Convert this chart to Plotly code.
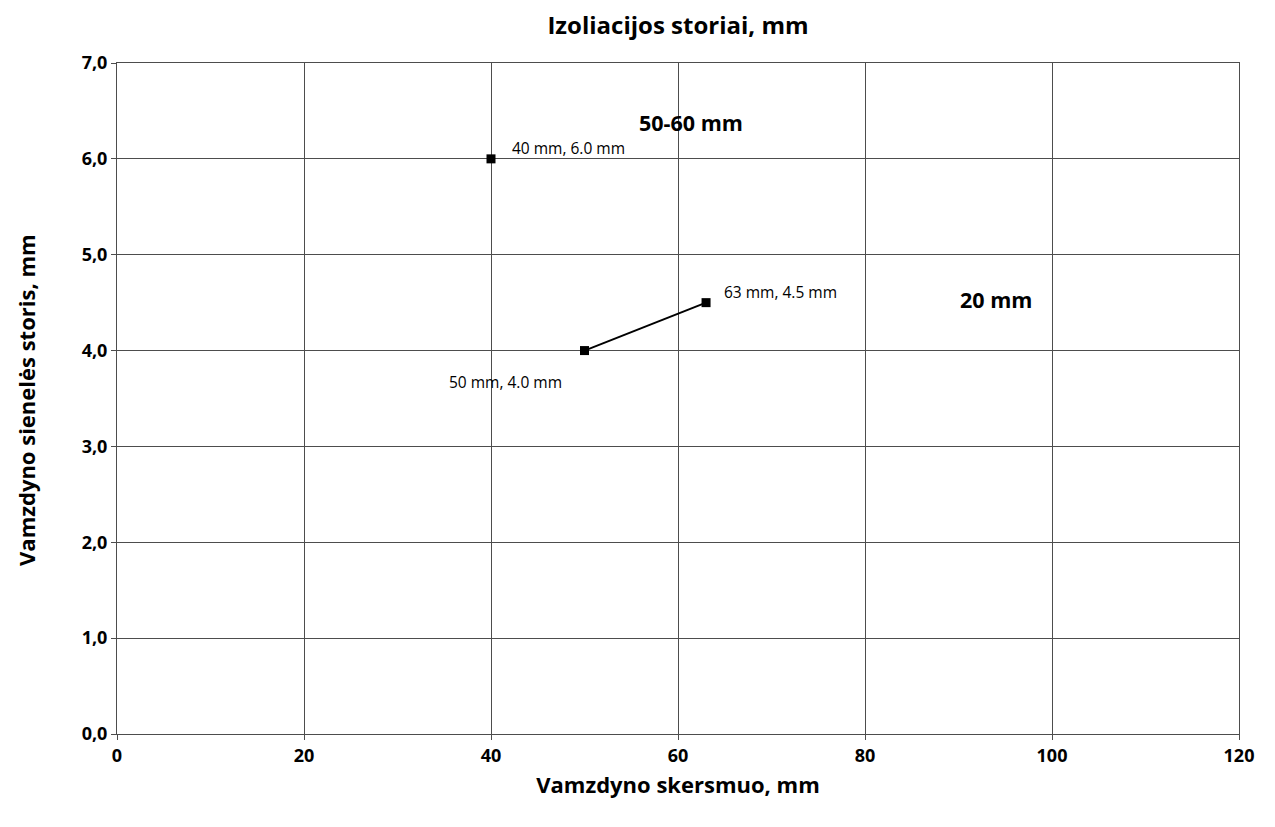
import plotly.graph_objects as go

# Data
line_x = [50, 63]
line_y = [4.0, 4.5]
single_x = [40]
single_y = [6.0]
point_labels = ["40 mm, 6.0 mm", "63 mm, 4.5 mm", "50 mm, 4.0 mm"]
label_x = [40, 63, 50]
label_y = [6.0, 4.5, 4.0]
region_labels = ["50-60 mm", "20 mm"]
region_x = [61.4, 94.0]
region_y = [6.38, 4.53]
x_ticks = [0, 20, 40, 60, 80, 100, 120]
y_ticks = [0, 1, 2, 3, 4, 5, 6, 7]
y_tick_text = ["0,0", "1,0", "2,0", "3,0", "4,0", "5,0", "6,0", "7,0"]

FONT = "Open Sans, Liberation Sans, Arial, sans-serif"

fig = go.Figure()
fig.add_trace(go.Scatter(x=line_x, y=line_y, mode="lines+markers",
                         line=dict(color="black", width=2),
                         marker=dict(symbol="square", size=9, color="black"),
                         showlegend=False))
fig.add_trace(go.Scatter(x=single_x, y=single_y, mode="markers",
                         marker=dict(symbol="square", size=9, color="black"),
                         showlegend=False))

offsets = [(19, 11, "left"), (16, 11, "left"), (-21, -31, "right")]
for t, x, y, (dx, dy, anc) in zip(point_labels, label_x, label_y, offsets):
    fig.add_annotation(x=x, y=y, text=t, showarrow=False, xanchor=anc,
                       xshift=dx, yshift=dy,
                       font=dict(family=FONT, size=15.5, color="black"))
for t, x, y in zip(region_labels, region_x, region_y):
    fig.add_annotation(x=x, y=y, text="<b>" + t + "</b>", showarrow=False,
                       font=dict(family=FONT, size=21.5, color="black"))

# y-axis title as rotated annotation
fig.add_annotation(x=-0.081, y=0.498, xref="paper", yref="paper",
                   text="<b>Vamzdyno sienelės storis, mm</b>", textangle=-90,
                   showarrow=False, xanchor="center", yanchor="middle",
                   font=dict(family=FONT, size=22, color="black"))

fig.update_layout(
    width=1275, height=827,
    paper_bgcolor="white", plot_bgcolor="white",
    margin=dict(l=109, r=44, t=55, b=101),
    font=dict(family=FONT, color="black"),
    title=dict(text="<b>Izoliacijos storiai, mm</b>", x=0.5, xref="paper",
               xanchor="center", y=0.979, yanchor="middle",
               font=dict(family=FONT, size=24, color="black")),
)
fig.update_xaxes(range=[0, 120], tickvals=x_ticks, showgrid=True,
                 gridcolor="#4d4d4d", gridwidth=1,
                 showline=True, linecolor="#4d4d4d", linewidth=1, mirror=True,
                 ticks="outside", ticklen=5, tickcolor="#4d4d4d",
                 tickfont=dict(family=FONT, size=18, color="black", weight="bold"),
                 zeroline=False,
                 title=dict(text="<b>Vamzdyno skersmuo, mm</b>", standoff=12,
                            font=dict(family=FONT, size=22, color="black")))
fig.update_yaxes(range=[0, 7], tickvals=y_ticks, ticktext=y_tick_text, showgrid=True,
                 gridcolor="#4d4d4d", gridwidth=1,
                 showline=True, linecolor="#4d4d4d", linewidth=1, mirror=True,
                 ticks="outside", ticklen=5, tickcolor="#4d4d4d",
                 tickfont=dict(family=FONT, size=18, color="black", weight="bold"),
                 zeroline=False)

fig.write_html("out.html")
